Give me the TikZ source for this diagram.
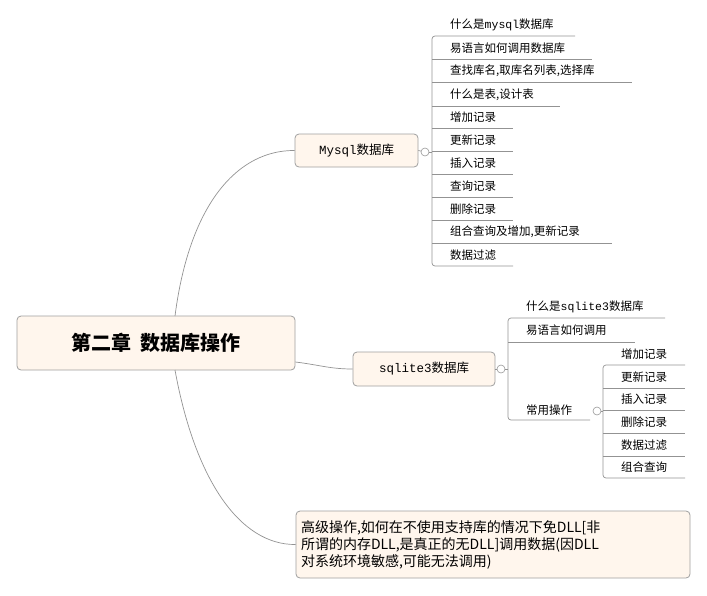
\documentclass[tikz,border=0pt]{standalone}
\usepackage{fontspec}
\setmainfont{Noto Sans CJK SC}
\newfontfamily\mono{Liberation Mono}
\begin{document}
\begin{tikzpicture}[x=1pt,y=-1pt,
  box/.style={draw=gray!75,fill=orange!7,rounded corners=4pt,line width=0.8pt},
  ln/.style={draw=gray!85,line width=0.7pt},
  leaf/.style={anchor=west,inner sep=0pt,font=\fontsize{11.5}{13}\selectfont},
  knob/.style={circle,draw=gray!80,fill=white,inner sep=0pt,minimum size=8pt,line width=0.6pt}]
\useasboundingbox (0,0) rectangle (707,595);
% main nodes
\node[box,minimum width=278pt,minimum height=54pt,font=\fontsize{20}{24}\selectfont\bfseries] (main) at (156,343) {第二章\ \ 数据库操作};
\node[box,minimum width=123pt,minimum height=33pt,font=\fontsize{12.5}{14}\selectfont] (my) at (356.5,150.5) {{\mono Mysql}数据库};
\node[box,minimum width=142pt,minimum height=34pt,font=\fontsize{12.5}{14}\selectfont] (sq) at (424,369) {{\mono sqlite3}数据库};
\node[box,minimum width=394pt,minimum height=67pt,align=left,text width=384pt,font=\fontsize{14}{17}\selectfont] (adv) at (493,544.5) {高级操作,如何在不使用支持库的情况下免DLL[非\\所谓的内存DLL,是真正的无DLL]调用数据(因DLL\\对系统环境敏感,可能无法调用)};
% curves
\coordinate (c1) at (175,316);
\coordinate (c2) at (175,370);
\draw[ln] (c1) .. controls (190,200) and (240,150) .. (my.west);
\draw[ln] (main.east|-0,362) .. controls (320,365) and (330,369) .. (sq.west);
\draw[ln] (c2) .. controls (195,480) and (240,545) .. (adv.west);
% mysql bracket
\node[knob] (k1) at (425,152) {};
\draw[ln] (my.east) -- (k1);
\coordinate (v1) at (432,152);
\draw[ln] (k1) -- (v1);
\foreach \yy/\t in {36/{什么是{\mono mysql}数据库},59/{易语言如何调用数据库},82/{查找库名,取库名列表,选择库},106/{什么是表,设计表},128/增加记录,151/更新记录,174/插入记录,197/查询记录,220/删除记录,243/{组合查询及增加,更新记录},266/数据过滤}{
  \node[leaf] (m\yy) at (450,\yy-11) {\t};
}
\foreach \yy/\xe in {59/592,82/632,106/560,128/513,151/513,174/513,197/513,220/513,243/612}{
  \draw[ln] (432,\yy) -- (\xe,\yy);}
\draw[ln,rounded corners=3pt] (575,36) -- (432,36) -- (432,266) -- (513,266);
% sqlite bracket
\node[knob] (k2) at (501,369) {};
\draw[ln] (sq.east) -- (k2);
\draw[ln] (k2) -- (508,369);
\node[leaf] (s1) at (526,307) {什么是{\mono sqlite3}数据库};
\node[leaf] (s2) at (526,330) {易语言如何调用};
\node[leaf] (s3) at (526,410) {常用操作};
\draw[ln] (508,342) -- (635,342);
\draw[ln,rounded corners=3pt] (665,318) -- (508,318) -- (508,420) -- (590,420);
\node[knob] (k3) at (597,411) {};
\draw[ln] (k3) -- (603,411);
\foreach \yy/\t in {365/增加记录,388/更新记录,410/插入记录,433/删除记录,456/数据过滤,478/组合查询}{
  \node[leaf] (o\yy) at (621,\yy-11) {\t};
}
\foreach \yy in {388,410,433,456}{\draw[ln] (603,\yy) -- (685,\yy);}
\draw[ln,rounded corners=3pt] (685,365) -- (603,365) -- (603,478) -- (685,478);
\end{tikzpicture}
\end{document}
